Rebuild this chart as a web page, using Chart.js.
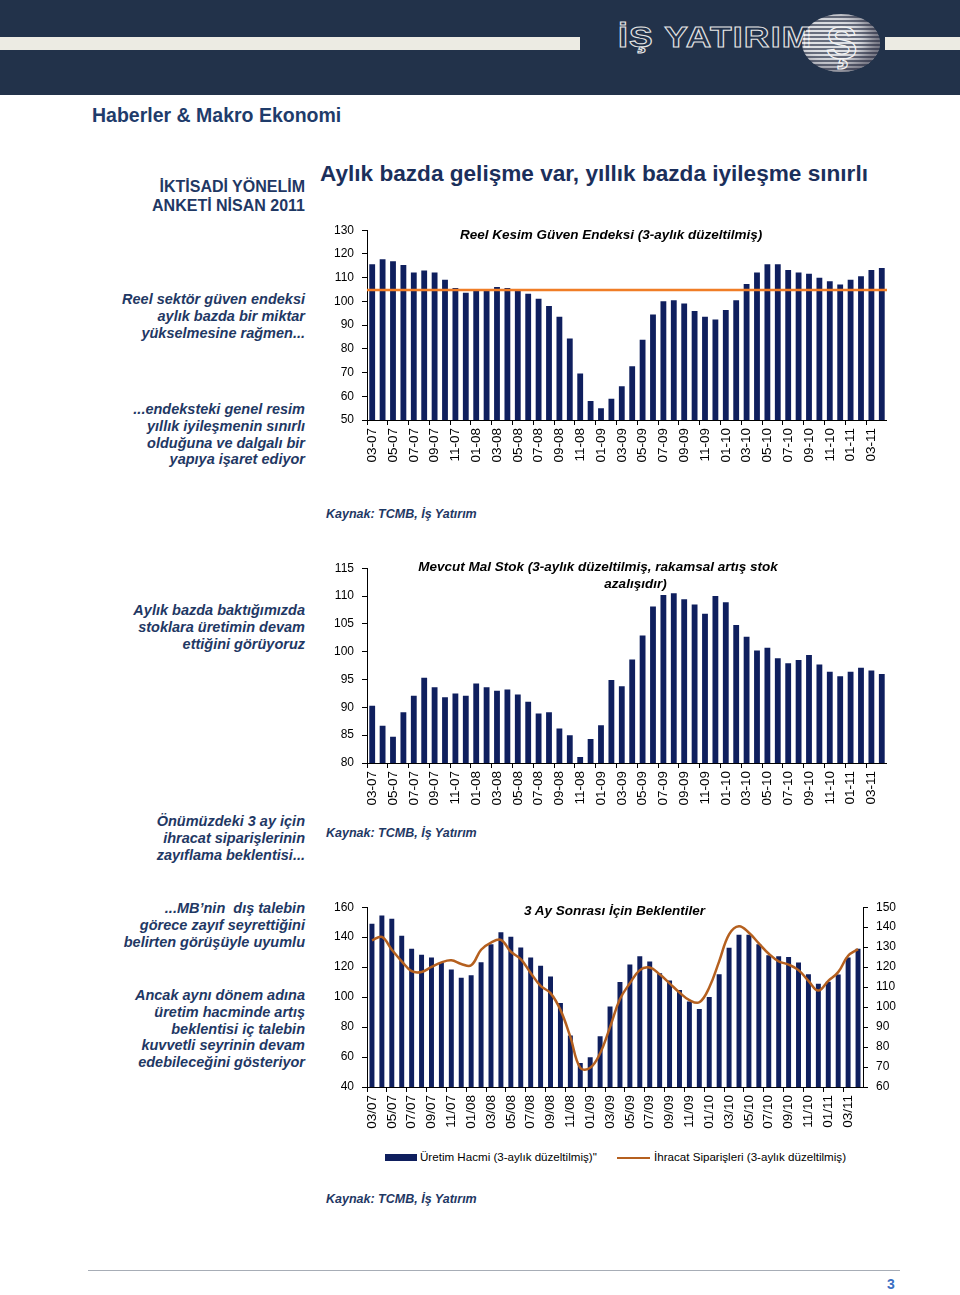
<!DOCTYPE html>
<html lang="tr">
<head>
<meta charset="UTF-8">
<title>Haberler &amp; Makro Ekonomi</title>
<style>
  body { margin: 0; width: 960px; height: 1295px; position: relative; background: #fff; font-family: "Liberation Sans", Arial, sans-serif; overflow: hidden; }
  .abs { position: absolute; }
  .header { left: 0; top: 0; width: 960px; height: 95px; background: #22324a; }
  .stripe { top: 37px; height: 13px; background: #ecebe3; }
  .logo_text { left: 618px; top: 21px; font: bold 29px "Liberation Sans", Arial, sans-serif; letter-spacing: 1px; color: transparent; -webkit-text-stroke: 1px #e6e6e6; transform: scaleX(1.22); transform-origin: left top; }
  .globe { left: 802px; top: 14px; width: 78px; height: 58px; border-radius: 50%;
    background: repeating-linear-gradient(180deg, rgba(255,255,255,0.85) 0 2px, rgba(150,150,160,0.6) 2px 4px); box-shadow: inset -10px -4px 14px rgba(40,40,60,0.6); }
  .globe span { position: absolute; left: 24px; top: 1px; font: bold 47px "Liberation Sans", Arial; color: transparent; -webkit-text-stroke: 1.2px #f4f4f4; }
  .page_title { left: 92px; top: 104px; font: bold 19.5px "Liberation Sans", Arial; color: #1f3c6b; }
  .main_title { left: 320px; top: 161px; font: bold 22.6px "Liberation Sans", Arial; color: #1b2f5b; white-space: nowrap; }
  .note { right: 655px; text-align: right; font: italic bold 14.5px/16.8px "Liberation Sans", Arial; color: #1f3864; white-space: nowrap; }
  .note.plain { font: bold 16px/19px "Liberation Sans", Arial; }
  .chart_title { font: italic bold 13.5px/17px "Liberation Sans", Arial; color: #000; text-align: center; white-space: nowrap; }
  .source { left: 326px; font: italic bold 12.5px "Liberation Sans", Arial; color: #1f3864; }
  .legend { top: 1150px; font: 11.6px "Liberation Sans", Arial; color: #000; white-space: nowrap; }
  .sw_bar { display: inline-block; width: 32px; height: 7px; background: #0f1f5e; vertical-align: middle; margin-right: 3px; }
  .sw_line { display: inline-block; width: 33px; height: 2.5px; background: #b5601f; vertical-align: middle; margin-right: 4px; }
  canvas { position: absolute; }
</style>
</head>
<body>
<div class="abs header"></div>
<div class="abs stripe" style="left:0;width:580px"></div>
<div class="abs stripe" style="left:885px;width:75px"></div>
<div class="abs logo_text">İŞ YATIRIM</div>
<div class="abs globe"><span>Ş</span></div>

<div class="abs page_title">Haberler &amp; Makro Ekonomi</div>
<div class="abs main_title">Aylık bazda gelişme var, yıllık bazda iyileşme sınırlı</div>

<div class="abs note plain" style="top:177px">İKTİSADİ YÖNELİM<br>ANKETİ NİSAN 2011</div>
<div class="abs note" style="top:291px">Reel sektör güven endeksi<br>aylık bazda bir miktar<br>yükselmesine rağmen...</div>
<div class="abs note" style="top:401px">...endeksteki genel resim<br>yıllık iyileşmenin sınırlı<br>olduğuna ve dalgalı bir<br>yapıya işaret ediyor</div>
<div class="abs note" style="top:602px">Aylık bazda baktığımızda<br>stoklara üretimin devam<br>ettiğini görüyoruz</div>
<div class="abs note" style="top:813px">Önümüzdeki 3 ay için<br>ihracat siparişlerinin<br>zayıflama beklentisi...</div>
<div class="abs note" style="top:900px">...MB’nin&nbsp; dış talebin<br>görece zayıf seyrettiğini<br>belirten görüşüyle uyumlu</div>
<div class="abs note" style="top:987px">Ancak aynı dönem adına<br>üretim hacminde artış<br>beklentisi iç talebin<br>kuvvetli seyrinin devam<br>edebileceğini gösteriyor</div>

<canvas id="chart_guven" width="576" height="255" style="left:325px;top:215px"></canvas>
<canvas id="chart_stok" width="576" height="260" style="left:325px;top:553px"></canvas>
<canvas id="chart_beklenti" width="580" height="245" style="left:325px;top:892px"></canvas>

<div class="abs chart_title" style="left:460px;top:226px">Reel Kesim Güven Endeksi (3-aylık düzeltilmiş)</div>
<div class="abs chart_title" style="left:405px;top:558px;width:386px">Mevcut Mal Stok (3-aylık düzeltilmiş, rakamsal artış stok<br><span style="padding-left:75px">azalışıdır)</span></div>
<div class="abs chart_title" style="left:524px;top:902px">3 Ay Sonrası İçin Beklentiler</div>

<div class="abs legend" style="left:385px"><span class="sw_bar"></span>Üretim Hacmi (3-aylık düzeltilmiş)"</div>
<div class="abs legend" style="left:617px"><span class="sw_line"></span>İhracat Siparişleri (3-aylık düzeltilmiş)</div>

<div class="abs source" style="top:507px">Kaynak: TCMB, İş Yatırım</div>
<div class="abs source" style="top:826px">Kaynak: TCMB, İş Yatırım</div>
<div class="abs source" style="top:1192px">Kaynak: TCMB, İş Yatırım</div>

<div class="abs" style="left:88px;top:1270px;width:812px;height:1px;background:#a7adb6"></div>
<div class="abs" style="left:887px;top:1276px;font:bold 14px 'Liberation Sans',Arial;color:#3b6fc2">3</div>

<script src="https://cdn.jsdelivr.net/npm/chart.js"></script>
<script>
const months = ['03-07','04-07','05-07','06-07','07-07','08-07','09-07','10-07','11-07','12-07',
  '01-08','02-08','03-08','04-08','05-08','06-08','07-08','08-08','09-08','10-08','11-08','12-08',
  '01-09','02-09','03-09','04-09','05-09','06-09','07-09','08-09','09-09','10-09','11-09','12-09',
  '01-10','02-10','03-10','04-10','05-10','06-10','07-10','08-10','09-10','10-10','11-10','12-10',
  '01-11','02-11','03-11','04-11'];
const monthsSlash = months.map(m => m.replace('-', '/'));

// Reel Kesim Guven Endeksi
const guven = [115.7,117.8,116.9,115.3,112.2,113.0,112.2,109.1,105.6,103.6,
  104.4,105.0,106.1,105.6,104.6,103.2,101.1,98.0,93.5,84.4,
  69.6,58.0,54.9,59.0,64.2,72.7,83.8,94.5,100.1,100.5,
  99.1,95.9,93.5,92.4,96.4,100.5,107.3,112.2,115.7,115.7,
  113.2,112.2,111.6,110.0,108.5,107.1,109.1,110.6,113.2,114.1];
const guvenAvg = 104.8;

// Mevcut Mal Stok
const stok = [90.3,86.7,84.7,89.1,92.1,95.3,93.6,91.8,92.5,92.1,
  94.3,93.6,93.0,93.2,92.3,91.0,88.9,89.1,86.2,85.0,
  81.1,84.3,86.8,94.9,93.8,98.6,102.9,108.1,110.2,110.5,
  109.4,108.5,106.8,110.0,108.9,104.8,102.7,100.2,100.7,98.8,
  97.9,98.5,99.4,97.7,96.4,95.6,96.4,97.1,96.6,96.0];

// 3 ay sonrasi beklentiler
const uretim = [148.9,154.5,152.3,140.9,132.3,128.3,126.5,122.7,118.5,112.9,
  114.5,123.3,135.3,143.3,140.3,133.1,126.5,120.9,113.8,96.0,
  74.3,56.1,59.8,73.8,93.8,110.0,121.8,127.2,123.8,116.0,
  111.1,104.7,97.1,92.0,100.0,115.3,132.9,141.6,141.6,135.3,
  128.0,127.2,126.7,123.1,115.3,108.9,110.3,115.1,126.5,132.3];
const ihracat = [133.4,135.1,128.7,122.9,118.0,117.6,120.1,122.4,123.4,121.6,
  120.9,128.7,132.3,133.6,127.7,124.0,117.1,110.6,107.0,98.6,
  85.1,69.6,69.6,76.9,90.0,104.0,111.9,118.5,119.8,116.4,
  111.9,107.3,103.5,102.4,109.8,122.9,136.4,140.5,137.2,131.9,
  126.7,122.9,121.3,118.5,113.1,108.3,113.1,117.5,125.7,129.0];

const NAVY = '#0f1f5e';
const FONT = "'Liberation Sans', Arial, sans-serif";

// long-run average line across the whole plot
const avgLine = {
  id: 'avgLine',
  afterDatasetsDraw(chart) {
    const y = chart.scales.y.getPixelForValue(guvenAvg);
    const a = chart.chartArea;
    const c = chart.ctx;
    c.save();
    c.strokeStyle = '#f07d26';
    c.lineWidth = 2.5;
    c.beginPath();
    c.moveTo(a.left, y);
    c.lineTo(a.right, y);
    c.stroke();
    c.restore();
  }
};

function xAxis(labels) {
  return {
    grid: { offset: true, drawOnChartArea: false, tickLength: 5, color: ctx => ctx.index % 2 === 0 ? '#000' : 'rgba(0,0,0,0)' },
    border: { color: '#000' },
    ticks: { autoSkip: false, minRotation: 90, maxRotation: 90, padding: 3, color: '#000', font: { family: FONT, size: 13.5 },
      callback: (v, i) => i % 2 === 0 ? labels[i] : '' },
    afterFit: s => { s.height = 50; }
  };
}

function yAxis(min, max, step, pos) {
  return {
    position: pos || 'left',
    min: min, max: max,
    grid: { drawOnChartArea: false, tickLength: 5, color: '#000' },
    border: { color: '#000' },
    ticks: { stepSize: step, padding: 8, color: '#000', font: { family: FONT, size: 12 } },
    afterFit: s => { s.width = 42; }
  };
}

const base = {
  responsive: false,
  animation: false,
  plugins: { legend: { display: false }, tooltip: { enabled: false } }
};

new Chart(document.getElementById('chart_guven'), {
  type: 'bar',
  data: { labels: months, datasets: [{ data: guven, backgroundColor: NAVY, categoryPercentage: 1, barPercentage: 0.56 }] },
  options: Object.assign({}, base, {
    layout: { padding: { top: 6, right: 1 } },
    scales: { x: xAxis(months), y: yAxis(50, 130, 10) }
  }),
  plugins: [avgLine]
});

new Chart(document.getElementById('chart_stok'), {
  type: 'bar',
  data: { labels: months, datasets: [{ data: stok, backgroundColor: NAVY, categoryPercentage: 1, barPercentage: 0.56 }] },
  options: Object.assign({}, base, {
    layout: { padding: { top: 5, right: 1 } },
    scales: { x: xAxis(months), y: yAxis(80, 115, 5) }
  })
});

new Chart(document.getElementById('chart_beklenti'), {
  type: 'bar',
  data: {
    labels: monthsSlash,
    datasets: [
      { type: 'line', data: ihracat, yAxisID: 'y1', borderColor: '#b5601f', borderWidth: 2.5, pointRadius: 0, tension: 0.4, order: 0 },
      { data: uretim, yAxisID: 'y', backgroundColor: NAVY, categoryPercentage: 1, barPercentage: 0.5, order: 1 }
    ]
  },
  options: Object.assign({}, base, {
    layout: { padding: { top: 4 } },
    scales: { x: xAxis(monthsSlash), y: yAxis(40, 160, 20), y1: yAxis(60, 150, 10, 'right') }
  })
});
</script>
</body>
</html>
